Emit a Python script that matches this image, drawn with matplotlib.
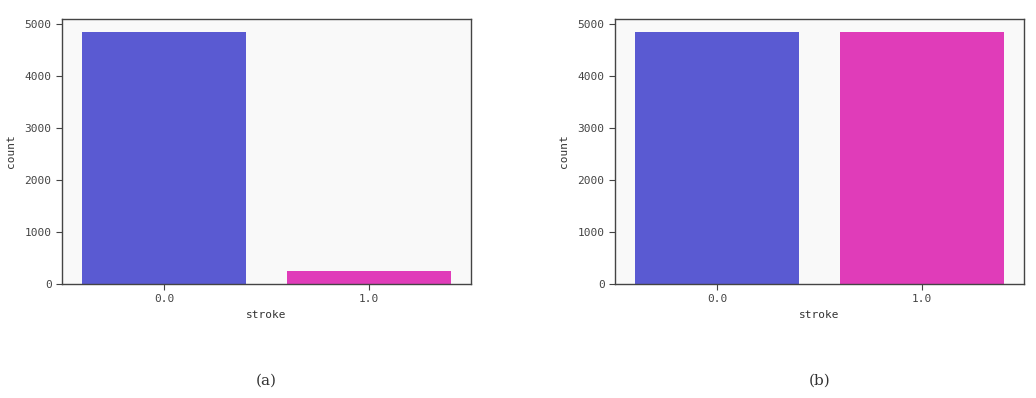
import matplotlib.pyplot as plt
import numpy as np

categories = ['0.0', '1.0']
counts_before = [4861, 249]
counts_after = [4861, 4861]
bar_colors = ['#5a5ad2', '#e03cb9']

fig = plt.figure(figsize=(10.36, 3.98), dpi=100)
ax1 = fig.add_axes([0.0598, 0.2864, 0.3948, 0.666])
ax2 = fig.add_axes([0.5936, 0.2864, 0.3948, 0.666])

for ax, counts, tag in [(ax1, counts_before, '(a)'), (ax2, counts_after, '(b)')]:
    x = np.arange(len(categories))
    ax.bar(x, counts, width=0.8, color=bar_colors)
    ax.set_facecolor('#f9f9f9')
    ax.set_xlim(-0.5, 1.5)
    ax.set_ylim(0, max(counts_after) * 1.05)
    ax.set_xticks(x)
    ax.set_xticklabels(categories, family='DejaVu Sans Mono', fontsize=8, color='#333333')
    ax.set_yticks([0, 1000, 2000, 3000, 4000, 5000])
    ax.set_yticklabels(['0', '1000', '2000', '3000', '4000', '5000'],
                       family='DejaVu Sans Mono', fontsize=8, color='#333333')
    ax.set_xlabel('stroke', family='DejaVu Sans Mono', fontsize=8, color='#333333')
    ax.set_ylabel('count', family='DejaVu Sans Mono', fontsize=8, color='#333333', labelpad=6)
    for s in ax.spines.values():
        s.set_color('#444444')
        s.set_linewidth(1)
    ax.tick_params(colors='#444444', length=4)
    ax.text(0.5, -0.366, tag, transform=ax.transAxes, ha='center', va='center',
            family='DejaVu Serif', fontsize=11, color='#333333')

fig.savefig('out.png', dpi=100)
